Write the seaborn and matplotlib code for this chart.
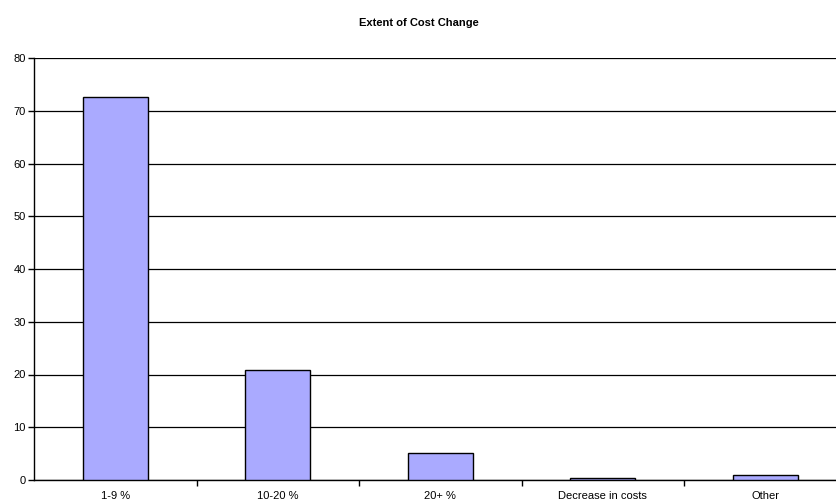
import matplotlib
matplotlib.use("Agg")
import matplotlib.pyplot as plt
import seaborn as sns
import pandas as pd
from matplotlib.ticker import FixedLocator, MultipleLocator

categories = ["1-9 %", "10-20 %", "20+ %", "Decrease in costs", "Other"]
values = [72.7, 20.9, 5.1, 0.4, 0.9]
title = "Extent of Cost Change"

sns.set_theme(style="white")
plt.rcParams["font.family"] = ["Liberation Sans", "DejaVu Sans"]

df = pd.DataFrame({"category": categories, "value": values})

W, H = 837, 504
fig = plt.figure(figsize=(W / 100, H / 100), dpi=100)
ax = fig.add_axes([34 / W, 24 / H, 812.5 / W, 422 / H])

ax.yaxis.grid(True, color="black", linewidth=0.9, zorder=0)
ax.set_axisbelow(True)

sns.barplot(data=df, x="category", y="value", order=categories,
            color="#AAAAFF", saturation=1, width=0.4,
            edgecolor="black", linewidth=1.0, ax=ax, zorder=3)

ax.set_xlim(-0.5, len(categories) - 0.5)
ax.set_ylim(0, 80)
ax.yaxis.set_major_locator(MultipleLocator(10))
ax.xaxis.set_minor_locator(FixedLocator([i + 0.5 for i in range(len(categories) - 1)]))

ax.set_xlabel("")
ax.set_ylabel("")
for side in ("top", "right"):
    ax.spines[side].set_visible(False)
for side in ("left", "bottom"):
    ax.spines[side].set_color("black")
    ax.spines[side].set_linewidth(1.0)

ax.tick_params(axis="y", which="major", left=True, length=4, width=1,
               color="black", labelsize=8, pad=2, labelcolor="black")
ax.tick_params(axis="x", which="major", bottom=False, labelsize=8,
               pad=2, labelcolor="black")
ax.tick_params(axis="x", which="minor", bottom=True, length=4, width=1,
               color="black")

fig.text(0.5, 1 - 23 / H, title, ha="center", va="center",
         fontsize=8, fontweight="bold", color="black")

fig.savefig("out.png", dpi=100, facecolor="white")
